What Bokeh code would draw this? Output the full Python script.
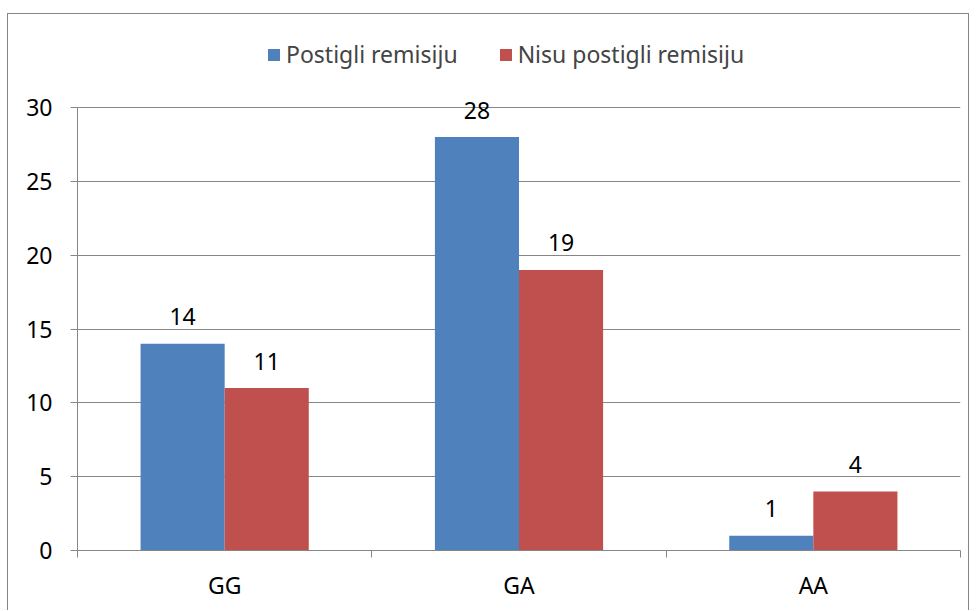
from bokeh.plotting import figure
from bokeh.models import (ColumnDataSource, Range1d, FixedTicker, LabelSet, Legend, LegendItem)
from bokeh.core.properties import value
from bokeh.embed import file_html
from bokeh.resources import INLINE

categories = ["GG", "GA", "AA"]
postigli = [14, 28, 1]
nisu = [11, 19, 4]
y_ticks = [0, 5, 10, 15, 20, 25, 30]
series_names = ["Postigli remisiju", "Nisu postigli remisiju"]

BLUE = "#4F81BD"
RED = "#C0504D"
GRID = "#868686"
FONT = "Noto Sans"
FS = "23px"
BW = 1 / 3.5  # Excel gap width 150%

# layout (pixels)
W, H = 962, 597
MB_L, MB_R, MB_B = 69, 10, 61
AXIS_PX = 443  # pixels for 0..30
frame_h = H - MB_B
y_top = 30 * frame_h / AXIS_PX

idx = list(range(len(categories)))
src_b = ColumnDataSource(dict(x=[i + 0.5 - BW / 2 for i in idx], y=postigli,
                              lab=[str(v) for v in postigli]))
src_r = ColumnDataSource(dict(x=[i + 0.5 + BW / 2 for i in idx], y=nisu,
                              lab=[str(v) for v in nisu]))

p = figure(width=W, height=H, output_backend="svg", toolbar_location=None,
           x_range=Range1d(0, len(categories)), y_range=Range1d(0, y_top),
           min_border_left=MB_L, min_border_right=MB_R, min_border_top=0,
           min_border_bottom=MB_B)
p.styles = {"border-top": "1px solid #868686", "border-left": "1px solid #868686",
            "border-right": "1px solid #868686", "margin-top": "13px",
            "margin-left": "7px"}
p.outline_line_color = None
p.background_fill_color = "white"
p.border_fill_color = "white"

rb = p.vbar(x="x", top="y", width=BW, source=src_b, fill_color=BLUE, line_color=None)
rr = p.vbar(x="x", top="y", width=BW, source=src_r, fill_color=RED, line_color=None)

for s in (src_b, src_r):
    p.add_layout(LabelSet(x="x", y="y", text="lab", source=s, y_offset=27,
                          text_align="center", text_baseline="middle",
                          text_font=value(FONT), text_font_size=FS,
                          text_color="black"))

# axes
p.xgrid.grid_line_color = None
p.ygrid.grid_line_color = GRID
p.ygrid.grid_line_width = 1

p.yaxis.ticker = FixedTicker(ticks=y_ticks)
p.yaxis.bounds = (0, 30)
p.yaxis.axis_line_color = GRID
p.yaxis.major_tick_line_color = GRID
p.yaxis.major_tick_out = 7
p.yaxis.major_tick_in = 0
p.yaxis.minor_tick_line_color = None
p.yaxis.major_label_standoff = 18
p.yaxis.major_label_text_font = FONT
p.yaxis.major_label_text_font_size = FS
p.yaxis.major_label_text_color = "black"

p.xaxis.ticker = FixedTicker(ticks=[i + 0.5 for i in idx],
                             minor_ticks=list(range(len(categories) + 1)))
p.xaxis.major_label_overrides = {i + 0.5: c for i, c in zip(idx, categories)}
p.xaxis.axis_line_color = GRID
p.xaxis.major_tick_line_color = None
p.xaxis.major_tick_out = 0
p.xaxis.major_tick_in = 0
p.xaxis.minor_tick_line_color = GRID
p.xaxis.minor_tick_out = 7
p.xaxis.minor_tick_in = 0
p.xaxis.major_label_standoff = 11
p.xaxis.major_label_text_font = FONT
p.xaxis.major_label_text_font_size = FS
p.xaxis.major_label_text_color = "black"

legend = Legend(items=[LegendItem(label=series_names[0], renderers=[rb]),
                       LegendItem(label=series_names[1], renderers=[rr])],
                orientation="horizontal", location=(189, 480),
                label_text_font=FONT, label_text_font_size=FS,
                glyph_width=15, glyph_height=15, label_standoff=5, spacing=40,
                padding=0, margin=0, border_line_color=None,
                background_fill_alpha=0)
p.add_layout(legend, "center")

open("out.html", "w").write(file_html(p, INLINE))
